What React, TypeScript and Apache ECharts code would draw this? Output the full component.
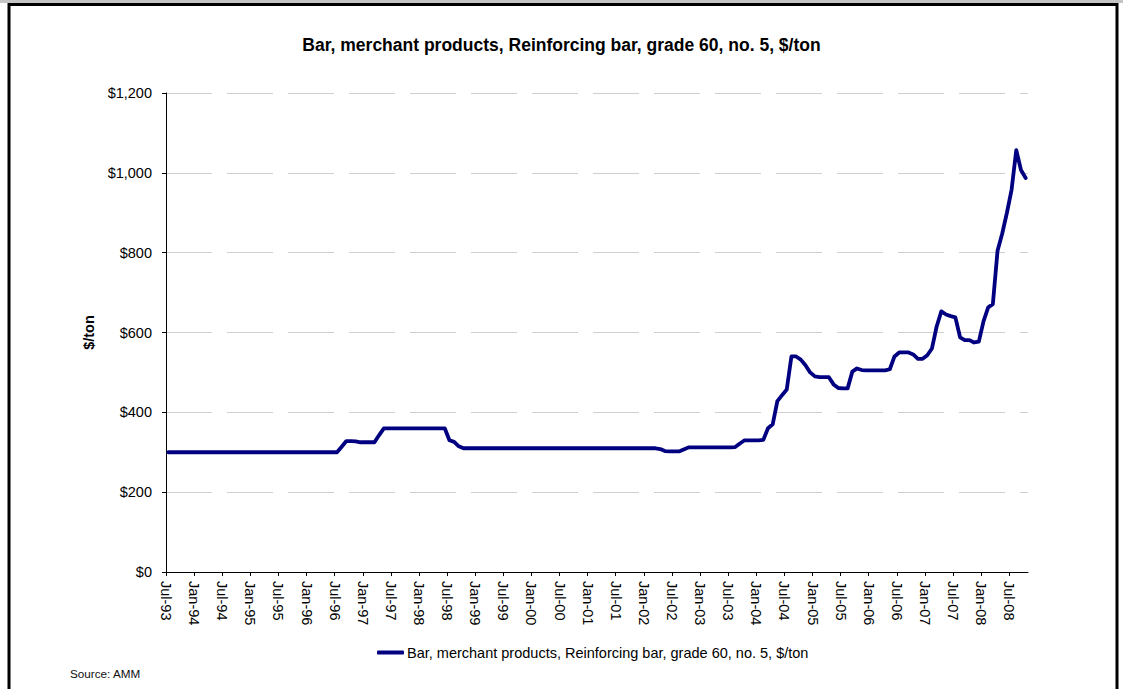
import React, { useEffect, useRef } from "react";
import * as echarts from "echarts";

// Months from Jul-93 (index 0); values observed mid-month, $/ton
const seriesName = "Bar, merchant products, Reinforcing bar, grade 60, no. 5, $/ton";

const prices1993 = [300, 300, 300, 300, 300, 300]; // Jul-Dec
const prices1994 = [300, 300, 300, 300, 300, 300, 300, 300, 300, 300, 300, 300];
const prices1995 = [300, 300, 300, 300, 300, 300, 300, 300, 300, 300, 300, 300];
const prices1996 = [300, 300, 300, 300, 300, 300, 300, 314, 328, 328, 327, 325];
const prices1997 = [325, 325, 325, 343, 360, 360, 360, 360, 360, 360, 360, 360];
const prices1998 = [360, 360, 360, 360, 360, 360, 330, 326, 315, 310, 310, 310];
const prices1999 = [310, 310, 310, 310, 310, 310, 310, 310, 310, 310, 310, 310];
const prices2000 = [310, 310, 310, 310, 310, 310, 310, 310, 310, 310, 310, 310];
const prices2001 = [310, 310, 310, 310, 310, 310, 310, 310, 310, 310, 310, 310];
const prices2002 = [310, 310, 310, 308, 303, 302, 302, 302, 307, 312, 312, 312];
const prices2003 = [312, 312, 312, 312, 312, 312, 312, 313, 322, 330, 330, 330];
const prices2004 = [330, 331, 360, 370, 428, 443, 457, 540, 540, 532, 518, 500];
const prices2005 = [490, 488, 488, 488, 470, 461, 460, 460, 502, 510, 506, 505];
const prices2006 = [505, 505, 505, 505, 508, 540, 550, 550, 550, 545, 534, 534];
const prices2007 = [543, 560, 615, 653, 645, 641, 638, 588, 581, 581, 575, 577];
const prices2008 = [628, 663, 671, 805, 848, 900, 958, 1057, 1007, 987]; // Jan-Oct

const prices = [
  ...prices1993, ...prices1994, ...prices1995, ...prices1996, ...prices1997,
  ...prices1998, ...prices1999, ...prices2000, ...prices2001, ...prices2002,
  ...prices2003, ...prices2004, ...prices2005, ...prices2006, ...prices2007,
  ...prices2008,
];

// Tick labels every 6 months starting Jul-93
const xTickLabels = [
  "Jul-93", "Jan-94", "Jul-94", "Jan-95", "Jul-95", "Jan-96", "Jul-96", "Jan-97",
  "Jul-97", "Jan-98", "Jul-98", "Jan-99", "Jul-99", "Jan-00", "Jul-00", "Jan-01",
  "Jul-01", "Jan-02", "Jul-02", "Jan-03", "Jul-03", "Jan-04", "Jul-04", "Jan-05",
  "Jul-05", "Jan-06", "Jul-06", "Jan-07", "Jul-07", "Jan-08", "Jul-08",
];
const monthsOnAxis = 184; // Jul-93 .. Nov-08 start
const yTicks = [0, 200, 400, 600, 800, 1000, 1200];

const FONT = "'Liberation Sans', Arial, sans-serif";

export default function App() {
  const ref = useRef<HTMLDivElement>(null);
  useEffect(() => {
    if (!ref.current) return;
    const chart = echarts.init(ref.current, null, { renderer: "svg" });
    const tickValues = xTickLabels.map((_, k) => k * 6);
    const data = prices.map((v, i) => [i + 0.5, v]);
    chart.setOption({
      animation: false,
      backgroundColor: "#ffffff",
      textStyle: { fontFamily: FONT },
      title: {
        text: "Bar, merchant products, Reinforcing bar, grade 60, no. 5, $/ton",
        left: "center",
        top: 30,
        textStyle: { fontFamily: FONT, fontSize: 17.5, fontWeight: "bold", color: "#000", lineHeight: 20 },
      },
      grid: { left: 166, right: 95, top: 93, bottom: 117, containLabel: false },
      legend: {
        left: 377,
        top: 645,
        padding: 0,
        itemWidth: 27,
        itemHeight: 4,
        textStyle: { fontFamily: FONT, fontSize: 14.5, color: "#000", padding: [0, 0, 0, -2] },
        data: [{ name: seriesName, icon: "roundRect", itemStyle: { color: "#000080" } }],
      },
      xAxis: {
        type: "value",
        min: 0,
        max: monthsOnAxis,
        interval: 6,
        axisLine: { show: true, lineStyle: { color: "#000", width: 1 } },
        axisTick: { show: true, length: 4, customValues: tickValues, lineStyle: { color: "#000" } },
        splitLine: { show: false },
        axisLabel: {
          rotate: -90,
          margin: 9,
          fontFamily: FONT,
          fontSize: 14.5,
          color: "#000",
          customValues: tickValues,
          formatter: (v: number) => xTickLabels[Math.round(v / 6)] ?? "",
        },
      },
      yAxis: {
        type: "value",
        min: yTicks[0],
        max: yTicks[yTicks.length - 1],
        interval: 200,
        name: "$/ton",
        nameLocation: "middle",
        nameGap: 70,
        nameTextStyle: { fontFamily: FONT, fontSize: 14.5, fontWeight: "bold", color: "#000" },
        axisLine: { show: true, lineStyle: { color: "#000", width: 1 } },
        axisTick: { show: true, length: 4, lineStyle: { color: "#000" } },
        axisLabel: {
          margin: 14,
          fontFamily: FONT,
          fontSize: 14.5,
          color: "#000",
          formatter: (v: number) => "$" + v.toLocaleString("en-US"),
        },
        splitLine: { show: true, lineStyle: { color: "#cfcfcf", width: 1, type: [46, 15] } },
      },
      series: [
        {
          name: seriesName,
          type: "line",
          data,
          symbol: "none",
          lineStyle: { color: "#000080", width: 3.8, join: "round", cap: "round" },
          itemStyle: { color: "#000080" },
        },
      ],
      graphic: [
        { type: "rect", shape: { x: 0, y: 0, width: 1123, height: 3 }, style: { fill: "#c4c4c4" }, silent: true },
        {
          type: "rect",
          shape: { x: 9, y: 4.5, width: 1108, height: 700 },
          style: { fill: "none", stroke: "#000", lineWidth: 3 },
          silent: true,
        },
        {
          type: "text",
          x: 70,
          y: 673,
          style: { text: "Source: AMM", fontFamily: FONT, fontSize: 11.7, fill: "#111", verticalAlign: "middle" },
          silent: true,
        },
      ],
    });
    return () => chart.dispose();
  }, []);
  return (
    <div
      ref={ref}
      style={{ position: "absolute", left: 0, top: 0, width: 1123, height: 689 }}
    />
  );
}
